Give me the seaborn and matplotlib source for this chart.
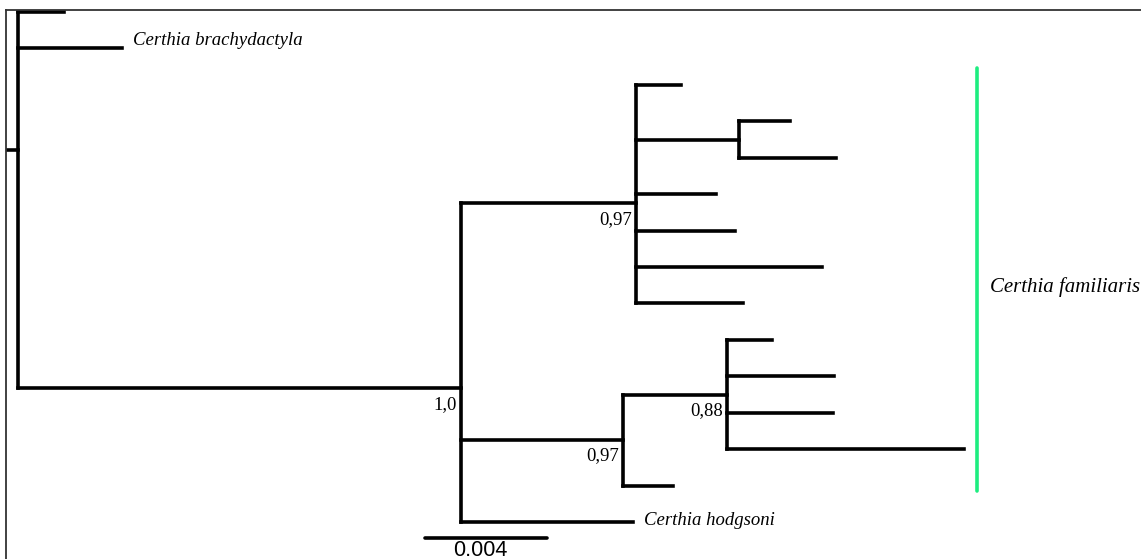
import pandas as pd
import seaborn as sns
import matplotlib.pyplot as plt

# tree: node, parent, branch length (substitutions/site)
nodes = ['root', 'out', 'brachy', 'ingroup', 'famA', 'a1', 'a2', 'a2a', 'a2b', 'a3', 'a4', 'a5', 'a6',
         'famB', 'famC', 'c1', 'c2', 'c3', 'c4', 'b1', 'hodgsoni']
parents = [None, 'root', 'root', 'root', 'ingroup', 'famA', 'famA', 'a2', 'a2', 'famA', 'famA', 'famA', 'famA',
           'ingroup', 'famB', 'famC', 'famC', 'famC', 'famC', 'famB', 'ingroup']
lengths = [0.0004, 0.0015, 0.0034, 0.01452, 0.00574, 0.00148, 0.00338, 0.00167, 0.00318, 0.00262, 0.00325,
           0.0061, 0.00351, 0.00531, 0.00341, 0.00148, 0.00351, 0.00348, 0.00777, 0.00164, 0.00564]
support = {'ingroup': '1,0', 'famA': '0,97', 'famB': '0,97', 'famC': '0,88'}
tip_labels = {'brachy': 'Certhia brachydactyla', 'hodgsoni': 'Certhia hodgsoni'}
clade_label = 'Certhia familiaris'
scale_len = 0.004
scale_text = '0.004'

sns.set_style('white')
plt.rcParams['font.family'] = ['Liberation Serif', 'DejaVu Serif']
plt.rcParams['text.color'] = 'black'

children = {n: [] for n in nodes}
for n, p in zip(nodes, parents):
    if p is not None:
        children[p].append(n)
blen = dict(zip(nodes, lengths))
par = dict(zip(nodes, parents))

xpos, ypos = {}, {}
leaf_counter = [0]


def layout(n, x0):
    xpos[n] = x0 + blen[n]
    if not children[n]:
        ypos[n] = leaf_counter[0]
        leaf_counter[0] += 1
    else:
        for c in children[n]:
            layout(c, xpos[n])
        ypos[n] = sum(ypos[c] for c in children[n]) / len(children[n])


layout('root', 0.0)

rows = []
seg = 0
rows += [(seg, 0.0, ypos['root']), (seg, xpos['root'], ypos['root'])]
for n in nodes:
    if par[n] is not None:
        seg += 1
        rows += [(seg, xpos[par[n]], ypos[n]), (seg, xpos[n], ypos[n])]
    if children[n]:
        seg += 1
        ys = [ypos[c] for c in children[n]]
        rows += [(seg, xpos[n], min(ys)), (seg, xpos[n], max(ys))]
df = pd.DataFrame(rows, columns=['seg', 'x', 'y'])

W, H = 1141, 559
fig = plt.figure(figsize=(W / 100, H / 100), dpi=100)
px_per_unit = 30500.0
px_per_leaf = 36.43
ax = fig.add_axes([6 / W, -10 / H, 1, 1])
ax.set_xlim(0, W / px_per_unit)
top = -2 / px_per_leaf
ax.set_ylim(top + H / px_per_leaf, top)

sns.lineplot(data=df, x='x', y='y', units='seg', estimator=None, sort=False,
             color='black', lw=2.6, ax=ax, legend=False)
for l in ax.lines:
    l.set_solid_capstyle('projecting')

for n, t in support.items():
    ax.annotate(t, (xpos[n], ypos[n]), xytext=(-4, -16), textcoords='offset pixels',
                ha='right', va='center', fontsize=13.5, color='black')
ax.annotate(tip_labels['brachy'], (xpos['brachy'], ypos['brachy']), xytext=(11, 8),
            textcoords='offset pixels', ha='left', va='center', fontsize=13.5, style='italic',
            color='black')
ax.annotate(tip_labels['hodgsoni'], (xpos['hodgsoni'], ypos['hodgsoni']), xytext=(11, 2),
            textcoords='offset pixels', ha='left', va='center', fontsize=13.5, style='italic',
            color='black')

# clade bar
fam_leaves = [ypos[n] for n in nodes if not children[n] and n not in ('out', 'brachy', 'hodgsoni')]
bar_x = (977 - 6) / px_per_unit
ax.plot([bar_x, bar_x], [min(fam_leaves) - 0.45, max(fam_leaves) + 0.15], color='#1ded80', lw=2.6)
ax.text(bar_x + 13 / px_per_unit, (min(fam_leaves) + max(fam_leaves)) / 2 + 0.05, clade_label,
        ha='left', va='center', fontsize=15, style='italic', color='black')

# scale bar
sx = (425 - 6) / px_per_unit
sy = ypos['hodgsoni'] + 0.44
ax.plot([sx, sx + scale_len], [sy, sy], color='black', lw=2.6)
ax.text(sx + scale_len / 2 - 6 / px_per_unit, sy + 0.04, scale_text, ha='center', va='top',
        fontsize=15.5, family=['Liberation Sans', 'DejaVu Sans'], color='black')

ax.set_xticks([])
ax.set_yticks([])
ax.set_xlabel('')
ax.set_ylabel('')
for s in ['right', 'bottom']:
    ax.spines[s].set_visible(False)
for s in ['left', 'top']:
    ax.spines[s].set_color('#333333')
    ax.spines[s].set_linewidth(1.3)

fig.savefig('out.png', dpi=100)
